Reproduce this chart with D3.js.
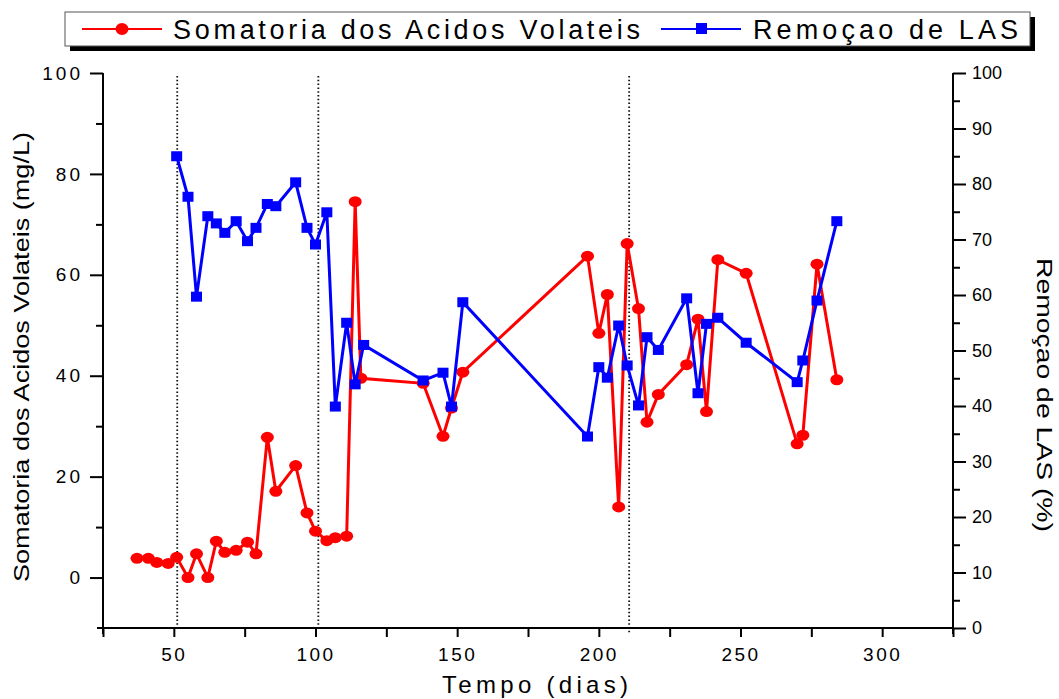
<!DOCTYPE html>
<html>
<head>
<meta charset="utf-8">
<script src="https://cdn.jsdelivr.net/npm/d3@7.9.0/dist/d3.min.js"></script>
<style>
  body { margin: 0; background: #fff; }
  svg { display: block; font-family: "Liberation Sans", Arial, sans-serif; }
</style>
</head>
<body>
<svg id="chart" width="1059" height="699"></svg>
<script>
// Somatoria dos acidos volateis (mg/L), left axis
const acidDays = [37, 41, 44, 48, 51, 55, 58, 62, 65, 68, 72, 76, 79, 83, 86, 93, 97, 100, 104, 107, 111,
  114, 116, 138, 145, 148, 152, 196, 200, 203, 207, 210, 214, 217, 221, 231, 235, 238, 242, 252, 270, 272, 277, 284];
const acidValues = [3.8, 3.8, 3.0, 2.8, 4.0, 0, 4.7, 0, 7.2, 5.0, 5.4, 7.0, 4.7, 27.8, 17.1, 22.2, 12.8, 9.2, 7.3, 7.9, 8.2,
  74.5, 39.5, 38.5, 28, 33.6, 40.7, 63.7, 48.4, 56.1, 14, 66.2, 53.3, 30.8, 36.3, 42.2, 51.2, 32.9, 63, 60.3, 26.5, 28.2, 62.1, 39.2];

// Remocao de LAS (%), right axis
const lasDays = [51, 55, 58, 62, 65, 68, 72, 76, 79, 83, 86, 93, 97, 100, 104, 107, 111, 114, 117, 138, 145, 148, 152,
  196, 200, 203, 207, 210, 214, 217, 221, 231, 235, 238, 242, 252, 270, 272, 277, 284];
const lasValues = [85.0, 77.7, 59.7, 74.2, 72.9, 71.2, 73.3, 69.7, 72.1, 76.4, 76.0, 80.3, 72.1, 69.1, 74.9, 39.9, 55, 43.9, 51,
  44.6, 46, 39.9, 58.7, 34.5, 47, 45.1, 54.5, 47.3, 40.1, 52.4, 50.1, 59.4, 42.3, 54.8, 55.9, 51.4, 44.3, 48.2, 59.0, 73.3];

// phase changes (dotted lines)
const phaseDays = [51.2, 101, 210.7];

const xTicks = d3.range(25, 326, 25);
const leftMajor = [0, 20, 40, 60, 80, 100];
const leftMinor = [10, 30, 50, 70, 90];
const rightMajor = d3.range(0, 101, 10);
const rightMinor = d3.range(5, 100, 10);

const acid = acidDays.map((d, i) => ({ day: d, value: acidValues[i] }));
const las = lasDays.map((d, i) => ({ day: d, value: lasValues[i] }));

const svg = d3.select("#chart");
const plotLeft = 103, plotRight = 953, plotTop = 73, plotBottom = 628;

const x = d3.scaleLinear().domain([25, 325]).range([plotLeft, plotRight]);
const yLeft = d3.scaleLinear().domain([-10, 100]).range([plotBottom, plotTop]);
const yRight = d3.scaleLinear().domain([0, 100]).range([plotBottom, plotTop]);

// dotted phase lines
svg.append("g")
  .selectAll("line")
  .data(phaseDays)
  .join("line")
  .attr("x1", (d) => x(d)).attr("x2", (d) => x(d))
  .attr("y1", plotTop + 3).attr("y2", (d, i) => i === 2 ? plotBottom + 6 : plotBottom + 2)
  .attr("stroke", "#111")
  .attr("stroke-width", 1.8)
  .attr("stroke-dasharray", "1.5,2.3");

// axes
function styleAxis(g) {
  g.selectAll("path, line").attr("stroke", "#000").attr("stroke-width", 2);
  g.selectAll("text").attr("fill", "#000");
}

svg.append("g")
  .attr("transform", `translate(0,${plotBottom})`)
  .call(d3.axisBottom(x).tickValues(xTicks).tickSize(9).tickSizeOuter(0)
    .tickFormat((d) => d % 50 === 0 && d >= 50 && d <= 300 ? d : ""))
  .call(styleAxis)
  .call((g) => g.select(".domain").attr("d", `M${plotLeft - 6},0H${plotRight}`))
  .call((g) => g.selectAll("text").attr("font-size", 19).attr("letter-spacing", 2.5).attr("dy", "1.1em"));

svg.append("g")
  .attr("transform", `translate(${plotLeft},0)`)
  .call(d3.axisLeft(yLeft).tickValues(leftMajor).tickSize(13).tickSizeOuter(0))
  .call(styleAxis)
  .call((g) => g.select(".domain").attr("d", `M0,${plotTop}V${plotBottom + 6}`))
  .call((g) => g.selectAll("text").attr("font-size", 19).attr("letter-spacing", 3).attr("x", -20));

svg.append("g")
  .attr("transform", `translate(${plotLeft},0)`)
  .call(d3.axisLeft(yLeft).tickValues(leftMinor).tickSize(7).tickFormat(""))
  .call(styleAxis)
  .call((g) => g.select(".domain").remove());

svg.append("g")
  .attr("transform", `translate(${plotRight},0)`)
  .call(d3.axisRight(yRight).tickValues(rightMajor).tickSize(13).tickSizeOuter(0))
  .call(styleAxis)
  .call((g) => g.select(".domain").attr("d", `M0,${plotTop}V${plotBottom + 6}`))
  .call((g) => g.selectAll("text").attr("font-size", 18).attr("x", 19));

svg.append("g")
  .attr("transform", `translate(${plotRight},0)`)
  .call(d3.axisRight(yRight).tickValues(rightMinor).tickSize(7).tickFormat(""))
  .call(styleAxis)
  .call((g) => g.select(".domain").remove());

// axis titles
svg.append("text")
  .attr("x", 442).attr("y", 693)
  .attr("font-size", 24)
  .attr("textLength", 186).attr("lengthAdjust", "spacing")
  .text("Tempo (dias)");

svg.append("text")
  .attr("transform", "translate(29,582) rotate(-90)")
  .attr("font-size", 22)
  .attr("textLength", 450).attr("lengthAdjust", "spacingAndGlyphs")
  .text("Somatoria dos Acidos Volateis (mg/L)");

svg.append("text")
  .attr("transform", "translate(1037,258) rotate(90)")
  .attr("font-size", 22)
  .attr("textLength", 274).attr("lengthAdjust", "spacingAndGlyphs")
  .text("Remoçao de LAS (%)");

// series
const acidLine = d3.line().x((d) => x(d.day)).y((d) => yLeft(d.value));
const lasLine = d3.line().x((d) => x(d.day)).y((d) => yRight(d.value));

svg.append("path")
  .datum(acid)
  .attr("d", acidLine)
  .attr("fill", "none").attr("stroke", "#ff0000").attr("stroke-width", 3);

svg.append("g")
  .selectAll("ellipse")
  .data(acid)
  .join("ellipse")
  .attr("cx", (d) => x(d.day)).attr("cy", (d) => yLeft(d.value))
  .attr("rx", 6.5).attr("ry", 5.5)
  .attr("fill", "#ff0000");

svg.append("path")
  .datum(las)
  .attr("d", lasLine)
  .attr("fill", "none").attr("stroke", "#0000ff").attr("stroke-width", 3);

svg.append("g")
  .selectAll("rect")
  .data(las)
  .join("rect")
  .attr("x", (d) => x(d.day) - 5.5).attr("y", (d) => yRight(d.value) - 5)
  .attr("width", 11).attr("height", 10)
  .attr("fill", "#0000ff");

// legend
const legend = svg.append("g");
legend.append("rect")
  .attr("x", 70).attr("y", 17).attr("width", 965).attr("height", 34)
  .attr("fill", "#000");
legend.append("rect")
  .attr("x", 65).attr("y", 12).attr("width", 965).attr("height", 34)
  .attr("fill", "#fff").attr("stroke", "#555").attr("stroke-width", 1);

const legendItems = [
  { label: "Somatoria dos Acidos Volateis", color: "#ff0000", shape: "circle", x0: 82, textX: 173, textLen: 467 },
  { label: "Remoçao de LAS", color: "#0000ff", shape: "square", x0: 661, textX: 753, textLen: 265 }
];

legendItems.forEach((item) => {
  legend.append("line")
    .attr("x1", item.x0).attr("x2", item.x0 + 80)
    .attr("y1", 29).attr("y2", 29)
    .attr("stroke", item.color).attr("stroke-width", 2);
  if (item.shape === "circle") {
    legend.append("ellipse")
      .attr("cx", item.x0 + 40).attr("cy", 29).attr("rx", 6.5).attr("ry", 6)
      .attr("fill", item.color);
  } else {
    legend.append("rect")
      .attr("x", item.x0 + 35).attr("y", 23).attr("width", 11).attr("height", 11)
      .attr("fill", item.color);
  }
  legend.append("text")
    .attr("x", item.textX).attr("y", 39)
    .attr("font-size", 27)
    .attr("textLength", item.textLen).attr("lengthAdjust", "spacing")
    .text(item.label);
});
</script>
</body>
</html>
